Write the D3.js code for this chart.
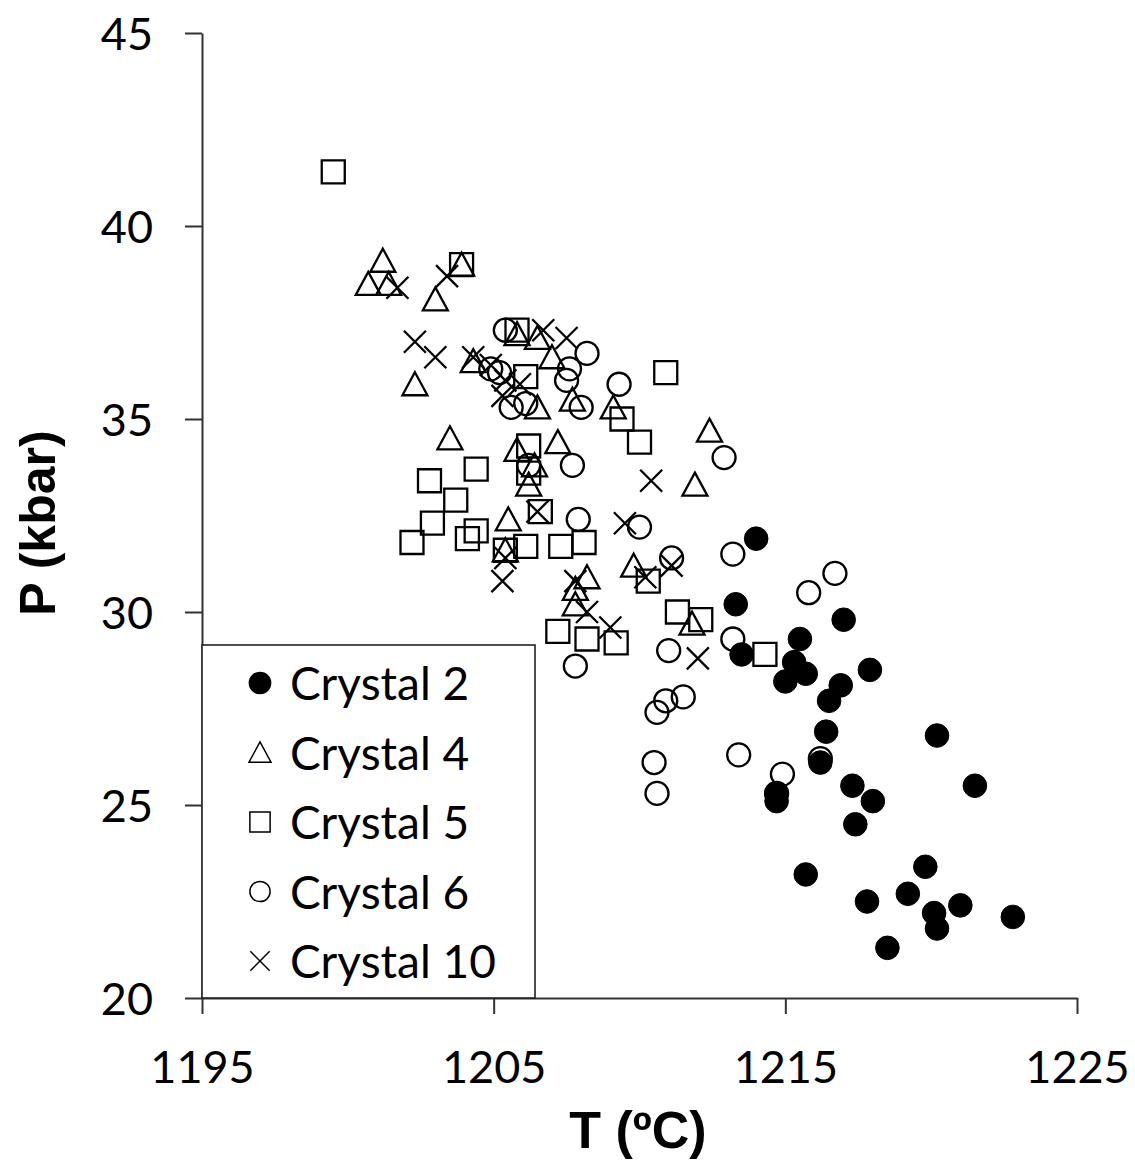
<!DOCTYPE html>
<html lang="en">
<head>
<meta charset="UTF-8">
<title>P-T of crystals</title>
<script src="https://d3js.org/d3.v7.min.js"></script>
<style>
  body { margin: 0; background: #fff; }
</style>
</head>
<body>
<script>
// [T (ºC), P (kbar)]
const crystal2 = [[1214.0,31.9],[1213.3,30.2],[1213.5,28.9],[1215.5,29.3],[1217.0,29.8],[1215.3,28.7],
  [1215.7,28.4],[1215.0,28.2],[1216.9,28.1],[1217.9,28.5],[1216.5,27.7],[1216.4,26.9],[1220.2,26.8],
  [1216.2,26.1],[1217.3,25.5],[1221.5,25.5],[1218.0,25.1],[1214.7,25.3],[1214.7,25.1],[1217.4,24.5],
  [1215.7,23.2],[1219.8,23.4],[1219.2,22.7],[1217.8,22.5],[1220.1,22.2],[1220.2,21.8],[1221.0,22.4],
  [1222.8,22.1],[1218.5,21.3]];
const crystal4 = [[1201.2,39.1],[1200.7,38.5],[1201.4,38.5],[1203.9,39.0],[1203.0,38.1],[1202.3,35.9],
  [1204.3,36.5],[1205.8,37.2],[1206.5,37.1],[1207.0,36.6],[1206.5,35.3],[1207.7,35.5],[1209.1,35.3],
  [1203.5,34.5],[1205.8,34.2],[1207.2,34.4],[1206.4,33.8],[1206.2,33.3],[1212.4,34.7],[1211.9,33.3],
  [1205.5,32.4],[1205.4,31.6],[1208.2,30.9],[1207.8,30.6],[1207.8,30.2],[1209.8,31.2],[1211.8,29.7]];
const crystal5 = [[1199.5,41.4],[1203.9,39.0],[1205.8,37.3],[1206.1,36.1],[1209.4,35.0],[1210.0,34.4],
  [1210.9,36.2],[1206.2,34.3],[1206.2,33.6],[1204.4,33.7],[1202.8,33.4],[1203.7,32.9],[1202.9,32.3],
  [1202.2,31.8],[1204.4,32.1],[1204.1,31.9],[1205.4,31.6],[1206.1,31.7],[1207.3,31.7],[1208.1,31.8],
  [1206.6,32.6],[1207.2,29.5],[1208.2,29.3],[1209.2,29.2],[1210.3,30.8],[1211.3,30.0],[1212.1,29.8],
  [1214.3,28.9]];
const crystal6 = [[1205.4,37.3],[1208.2,36.7],[1207.6,36.3],[1207.5,36.0],[1209.3,35.9],[1204.9,36.3],
  [1205.2,36.2],[1205.6,35.3],[1206.1,35.4],[1208.0,35.3],[1212.9,34.0],[1207.7,33.8],[1206.2,33.8],
  [1207.9,32.4],[1210.0,32.2],[1211.1,31.4],[1213.2,31.5],[1215.8,30.5],[1216.7,31.0],[1213.2,29.3],
  [1211.0,29.0],[1211.5,27.8],[1210.9,27.7],[1210.6,27.4],[1207.8,28.6],[1213.4,26.3],[1210.5,26.1],
  [1210.6,25.3],[1214.9,25.8],[1214.7,25.3],[1216.2,26.2]];
const crystal10 = [[1201.7,38.4],[1203.4,38.7],[1202.3,37.0],[1203.0,36.6],[1204.3,36.6],[1204.9,36.4],
  [1205.4,36.0],[1205.9,35.9],[1205.3,35.6],[1206.7,37.3],[1207.5,37.1],[1210.4,33.4],[1209.5,32.3],
  [1206.5,32.6],[1205.3,30.8],[1205.4,31.4],[1207.8,30.8],[1208.2,30.0],[1209.0,29.6],[1210.2,30.9],
  [1211.1,31.2],[1212.0,28.8]];

const legendLabels = ["Crystal 2", "Crystal 4", "Crystal 5", "Crystal 6", "Crystal 10"];
const xTicks = [1195, 1205, 1215, 1225];
const yTicks = [20, 25, 30, 35, 40, 45];

const w = 1135;
const h = 1164;

const xScale = d3.scaleLinear().domain([1195, 1225]).range([202, 1077]);
const yScale = d3.scaleLinear().domain([20, 45]).range([998, 33]);

const svg = d3.select("body").append("svg")
  .attr("width", w)
  .attr("height", h);

// marker shapes, s = scale factor
const shapes = {
  dot: s => { const r = 11.8 * s; return `M${-r},0A${r},${r} 0 1,0 ${r},0A${r},${r} 0 1,0 ${-r},0Z`; },
  triangle: s => `M0,${-12*s}L${12.5*s},${11*s}L${-12.5*s},${11*s}Z`,
  square: s => { const a = 11.5 * s; return `M${-a},${-a}H${a}V${a}H${-a}Z`; },
  circle: s => { const r = 11.5 * s; return `M${-r},0A${r},${r} 0 1,0 ${r},0A${r},${r} 0 1,0 ${-r},0Z`; },
  cross: s => { const a = 11 * s; return `M${-a},${-a}L${a},${a}M${-a},${a}L${a},${-a}`; }
};

const series = [
  { data: crystal2, shape: "dot", filled: true },
  { data: crystal4, shape: "triangle", filled: false },
  { data: crystal5, shape: "square", filled: false },
  { data: crystal6, shape: "circle", filled: false },
  { data: crystal10, shape: "cross", filled: false }
];

// axes
const xAxis = d3.axisBottom(xScale).tickValues(xTicks).tickFormat(d3.format("d"))
  .tickSize(16).tickSizeOuter(0);
const yAxis = d3.axisLeft(yScale).tickValues(yTicks)
  .tickSize(17).tickSizeOuter(0);

const gx = svg.append("g")
  .attr("transform", "translate(0,998)")
  .call(xAxis);
gx.selectAll("text").attr("y", 85).attr("dy", null);

const gy = svg.append("g")
  .attr("transform", "translate(202,0)")
  .call(yAxis);
gy.selectAll("text").attr("x", -49).attr("dy", "0.36em");

svg.selectAll(".tick text")
  .style("font-family", "Lato, 'Open Sans', sans-serif")
  .style("font-size", "45px")
  .attr("fill", "#000");
svg.selectAll(".domain, .tick line")
  .attr("stroke", "#333")
  .attr("stroke-width", 2);

// points
series.forEach(sr => {
  svg.append("g").selectAll("path")
    .data(sr.data)
    .enter()
    .append("path")
    .attr("transform", d => `translate(${xScale(d[0])},${yScale(d[1])})`)
    .attr("d", shapes[sr.shape](1))
    .attr("fill", sr.filled ? "#000" : "none")
    .attr("stroke", "#000")
    .attr("stroke-width", sr.filled ? 1 : 2.3);
});

// legend
const legend = svg.append("g");
legend.append("rect")
  .attr("x", 202).attr("y", 645)
  .attr("width", 333).attr("height", 353)
  .attr("fill", "#fff")
  .attr("stroke", "#222")
  .attr("stroke-width", 1.6);

const rowY = i => 683 + i * 69.5;
series.forEach((sr, i) => {
  legend.append("path")
    .attr("transform", `translate(260,${rowY(i)})`)
    .attr("d", shapes[sr.shape](sr.shape === "dot" ? 0.9 : 0.88))
    .attr("fill", sr.filled ? "#000" : "none")
    .attr("stroke", "#000")
    .attr("stroke-width", 1.5);
  legend.append("text")
    .attr("x", 290)
    .attr("y", rowY(i) + 17)
    .style("font-family", "Lato, 'Open Sans', sans-serif")
    .style("font-size", "46px")
    .text(legendLabels[i]);
});

// axis titles
svg.append("text")
  .attr("transform", "translate(55,523) rotate(-90)")
  .attr("text-anchor", "middle")
  .style("font-family", "'Liberation Sans', Arial, sans-serif")
  .style("font-weight", "bold")
  .style("font-size", "50px")
  .text("P (kbar)");

svg.append("text")
  .attr("x", 638)
  .attr("y", 1148)
  .attr("text-anchor", "middle")
  .style("font-family", "'Liberation Sans', Arial, sans-serif")
  .style("font-weight", "bold")
  .style("font-size", "52px")
  .text("T (ºC)");
</script>
</body>
</html>
